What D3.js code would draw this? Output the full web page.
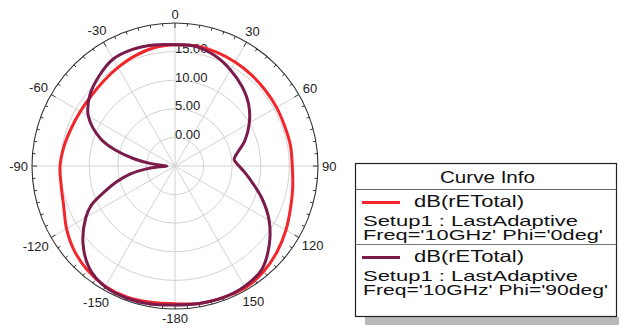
<!DOCTYPE html>
<html lang="en">
<head>
<meta charset="UTF-8">
<title>Radiation Pattern - dB(rETotal)</title>
<script src="https://d3js.org/d3.v7.min.js"></script>
<style>
  body { margin: 0; background: #fff; }
  svg { display: block; font-family: "Liberation Sans", Arial, sans-serif; }
</style>
</head>
<body>
<script>
  // angles in degrees (0 = top, clockwise), gain in dB
  const phi0Angles = [-180, -170, -160, -150, -140, -130, -120, -110, -100, -90, -80, -70, -60, -50, -40, -30, -20, -10,
                      0, 10, 20, 30, 40, 50, 60, 70, 80, 90, 100, 110, 120, 130, 140, 150, 160, 170];
  const phi0Gain = [19.1, 19.2, 19.4, 19.3, 18.8, 18.0, 16.9, 15.7, 15.2, 15.1, 14.7, 14.3, 14.1, 14.1, 14.4, 14.9, 15.5, 16.0,
                    16.2, 16.3, 16.2, 16.0, 15.8, 15.6, 15.5, 15.4, 15.5, 15.5, 15.9, 16.5, 17.4, 18.3, 19.1, 19.6, 19.5, 19.4];

  const phi90Angles = [-180, -170, -160, -150, -140, -130, -120, -115, -110, -105, -100, -96, -93, -90, -87, -84, -80, -75, -70,
                       -60, -50, -40, -30, -20, -10, 0, 10, 20, 30, 40, 50, 60, 70, 80, 84, 90, 95, 100, 110, 120, 130,
                       140, 150, 160, 170];
  const phi90Gain = [19.3, 19.5, 19.6, 19.4, 18.3, 16.0, 13.0, 11.1, 8.1, 5.5, 2.9, 0.2, -2.2, -3.6, -2.6, -0.6, 2.3, 5.8, 8.8,
                     12.5, 14.4, 15.6, 16.6, 16.7, 16.5, 16.2, 16.2, 15.5, 14.4, 13.2, 11.8, 10.0, 8.0, 5.8, 5.4, 6.2, 7.2, 8.3, 11.1, 14.0, 16.5,
                     18.6, 19.3, 19.5, 19.4];

  const ringValues = [0, 5, 10, 15];
  const ringLabels = ["0.00", "5.00", "10.00", "15.00"];
  const angleTicks = [0, 30, 60, 90, 120, 150, 180, 210, 240, 270, 300, 330];
  const angleLabels = ["0", "30", "60", "90", "120", "150", "-180", "-150", "-120", "-90", "-60", "-30"];

  const legendTitle = "Curve Info";
  const seriesNames = ["dB(rETotal)", "dB(rETotal)"];
  const seriesSetup = ["Setup1 : LastAdaptive", "Setup1 : LastAdaptive"];
  const seriesFreq = ["Freq='10GHz' Phi='0deg'", "Freq='10GHz' Phi='90deg'"];
  const seriesColors = ["#f2262b", "#7a1b4c"];

  const width = 619, height = 329;
  const cx = 175, cy = 166, R = 143;

  const svg = d3.select("body").append("svg")
    .attr("width", width)
    .attr("height", height);

  const rScale = d3.scaleLinear().domain([-5, 20]).range([0, R]);
  const rad = d => d * Math.PI / 180;

  const plot = svg.append("g").attr("transform", "translate(" + cx + "," + cy + ")");

  // grid rings
  plot.selectAll(".ring")
    .data(ringValues)
    .enter().append("circle")
    .attr("class", "ring")
    .attr("r", d => rScale(d))
    .attr("fill", "none")
    .attr("stroke", "#d2d2d2")
    .attr("stroke-width", 1);

  // spokes every 30 deg
  plot.selectAll(".spoke")
    .data(angleTicks)
    .enter().append("line")
    .attr("class", "spoke")
    .attr("x1", 0).attr("y1", 0)
    .attr("x2", d => R * Math.sin(rad(d)))
    .attr("y2", d => -R * Math.cos(rad(d)))
    .attr("stroke", "#d2d2d2")
    .attr("stroke-width", 1);

  // outer circle
  plot.append("circle")
    .attr("r", R)
    .attr("fill", "none")
    .attr("stroke", "#333")
    .attr("stroke-width", 1.1);

  // tick marks on the outer circle
  plot.selectAll(".tick")
    .data(d3.range(0, 360, 5))
    .enter().append("line")
    .attr("class", "tick")
    .attr("x1", d => R * Math.sin(rad(d)))
    .attr("y1", d => -R * Math.cos(rad(d)))
    .attr("x2", d => (R - (d % 30 === 0 ? 5 : 3)) * Math.sin(rad(d)))
    .attr("y2", d => -(R - (d % 30 === 0 ? 5 : 3)) * Math.cos(rad(d)))
    .attr("stroke", "#333")
    .attr("stroke-width", 1);

  // angle labels
  const aLabels = plot.selectAll(".alabel")
    .data(angleTicks)
    .enter().append("text")
    .attr("class", "alabel")
    .attr("text-anchor", "middle")
    .attr("dominant-baseline", "central")
    .style("font-size", "13px")
    .attr("fill", "#222")
    .text((d, i) => angleLabels[i]);

  aLabels.each(function(d) {
    const w = this.getComputedTextLength();
    const s = Math.abs(Math.sin(rad(d))), c = Math.abs(Math.cos(rad(d)));
    const L = 147 + (w / 2) * s + 5 * c;
    d3.select(this)
      .attr("x", L * Math.sin(rad(d)))
      .attr("y", -L * Math.cos(rad(d)));
  });

  // ring labels
  plot.selectAll(".rlabel")
    .data(ringValues)
    .enter().append("text")
    .attr("class", "rlabel")
    .attr("x", 0)
    .attr("y", d => -rScale(d) + 1.5)
    .style("font-size", "13px")
    .attr("fill", "#222")
    .text((d, i) => ringLabels[i]);

  // curves
  const radial = d3.lineRadial()
    .angle(d => rad(d[0]))
    .radius(d => rScale(d[1]))
    .curve(d3.curveCatmullRomClosed.alpha(0.5));

  const series = [
    d3.zip(phi0Angles, phi0Gain),
    d3.zip(phi90Angles, phi90Gain)
  ];

  plot.selectAll(".curve")
    .data(series)
    .enter().append("path")
    .attr("class", "curve")
    .attr("d", radial)
    .attr("fill", "none")
    .attr("stroke", (d, i) => seriesColors[i])
    .attr("stroke-width", 3);

  // legend
  const lg = svg.append("g").attr("class", "legend");

  lg.append("rect")
    .attr("x", 365).attr("y", 317)
    .attr("width", 254).attr("height", 8)
    .attr("fill", "#b8b8b8");

  lg.append("rect")
    .attr("x", 355.5).attr("y", 163.5)
    .attr("width", 261).attr("height", 153)
    .attr("fill", "#fff")
    .attr("stroke", "#222")
    .attr("stroke-width", 1.2);

  lg.append("line")
    .attr("x1", 355.5).attr("x2", 616.5)
    .attr("y1", 189.5).attr("y2", 189.5)
    .attr("stroke", "#666");

  lg.append("line")
    .attr("x1", 355.5).attr("x2", 616.5)
    .attr("y1", 244.5).attr("y2", 244.5)
    .attr("stroke", "#777");

  lg.append("text")
    .attr("x", 440).attr("y", 182.5)
    .attr("textLength", 95)
    .attr("lengthAdjust", "spacingAndGlyphs")
    .style("font-size", "17px")
    .attr("fill", "#111")
    .text(legendTitle);

  const entry = lg.selectAll(".entry")
    .data(seriesNames)
    .enter().append("g")
    .attr("class", "entry")
    .attr("transform", (d, i) => "translate(0," + i * 55 + ")");

  entry.append("line")
    .attr("x1", 362).attr("x2", 400)
    .attr("y1", 202.5).attr("y2", 202.5)
    .attr("stroke", (d, i) => seriesColors[i])
    .attr("stroke-width", 3);

  entry.append("text")
    .attr("x", 414).attr("y", 206.5)
    .attr("textLength", 110)
    .attr("lengthAdjust", "spacingAndGlyphs")
    .style("font-size", "16.5px")
    .attr("fill", "#111")
    .text(d => d);

  entry.append("text")
    .attr("x", 363).attr("y", 225.8)
    .attr("textLength", 215)
    .attr("lengthAdjust", "spacingAndGlyphs")
    .style("font-size", "15px")
    .attr("fill", "#111")
    .text((d, i) => seriesSetup[i]);

  entry.append("text")
    .attr("x", 363).attr("y", 240)
    .attr("textLength", (d, i) => i === 0 ? 240 : 245)
    .attr("lengthAdjust", "spacingAndGlyphs")
    .style("font-size", "15px")
    .attr("fill", "#111")
    .text((d, i) => seriesFreq[i]);
</script>
</body>
</html>
